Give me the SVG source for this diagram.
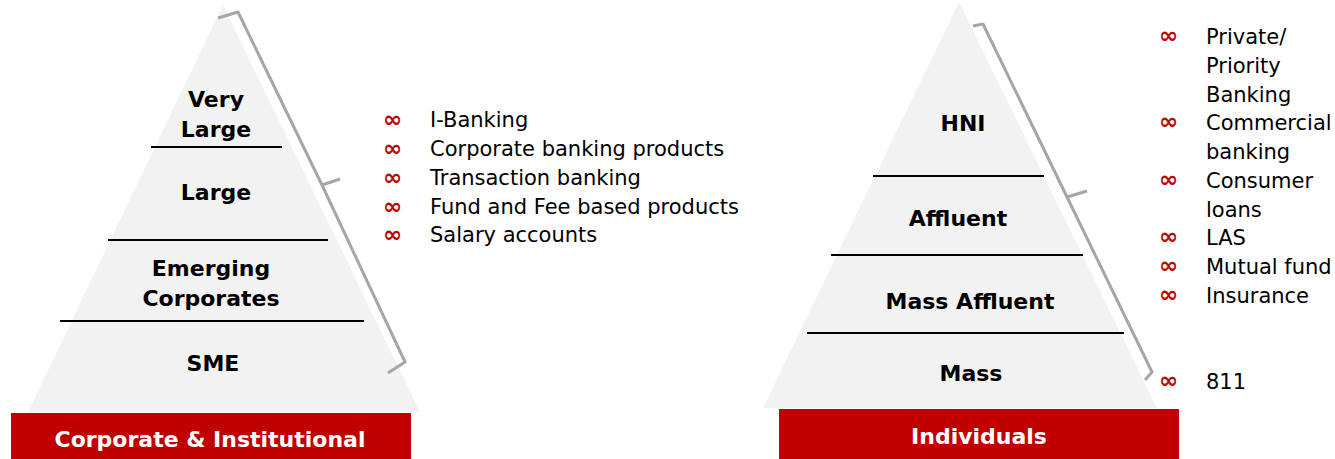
<svg xmlns="http://www.w3.org/2000/svg" width="1335" height="459" viewBox="0 0 1335 459">
<style>
.pyr{fill:#f2f2f2}
.sep{stroke:#000;stroke-width:2}
.brace{fill:none;stroke:#a6a6a6;stroke-width:3;stroke-linejoin:round}
.lbl{font-family:"DejaVu Sans",sans-serif;font-weight:bold;font-size:22px;fill:#000;text-anchor:middle}
.bar{fill:#c00000}
.barT{font-family:"DejaVu Sans",sans-serif;font-weight:bold;font-size:22px;fill:#fff;text-anchor:middle}
.bul{font-family:"DejaVu Sans",sans-serif;font-size:23px;font-weight:bold;fill:#c00000}
.item{font-family:"DejaVu Sans",sans-serif;font-size:21px;fill:#000}
</style>
<rect width="1335" height="459" fill="#fff"/>
<g id="corporate">
  <polygon class="pyr" points="223,5 28,412 420,412"/>
  <line class="sep" x1="151" y1="147" x2="282" y2="147"/>
  <line class="sep" x1="108" y1="240" x2="328" y2="240"/>
  <line class="sep" x1="60" y1="321" x2="364" y2="321"/>
  <text class="lbl" x="216" y="107">Very</text>
  <text class="lbl" x="216" y="137">Large</text>
  <text class="lbl" x="216" y="200">Large</text>
  <text class="lbl" x="211" y="276">Emerging</text>
  <text class="lbl" x="211" y="306">Corporates</text>
  <text class="lbl" x="213" y="371">SME</text>
  <rect class="bar" x="11" y="413" width="400" height="46"/>
  <text class="barT" x="210" y="447">Corporate &amp; Institutional</text>
</g>
<g id="individuals">
  <polygon class="pyr" points="959,2 763,408 1157,408"/>
  <line class="sep" x1="873" y1="176" x2="1044" y2="176"/>
  <line class="sep" x1="831" y1="255" x2="1083" y2="255"/>
  <line class="sep" x1="807" y1="333" x2="1124" y2="333"/>
  <text class="lbl" x="963" y="131">HNI</text>
  <text class="lbl" x="958" y="226">Affluent</text>
  <text class="lbl" x="970" y="309">Mass Affluent</text>
  <text class="lbl" x="971" y="381">Mass</text>
  <rect class="bar" x="779" y="409" width="400" height="50"/>
  <text class="barT" x="979" y="444">Individuals</text>
</g>
<g id="connectors">
  <path class="brace" d="M218,18 L238,12 L322,185 L340,179 M322,185 L405,362 L388,373"/>
  <path class="brace" d="M973,26 L983,24 L1067,197 L1087,191 M1067,197 L1152,372 L1145,380"/>
</g>
<g id="corporate-list">
  <text class="bul" x="383" y="127">∞</text><text class="item" x="430" y="127">I-Banking</text>
  <text class="bul" x="383" y="156">∞</text><text class="item" x="430" y="156">Corporate banking products</text>
  <text class="bul" x="383" y="185">∞</text><text class="item" x="430" y="185">Transaction banking</text>
  <text class="bul" x="383" y="214">∞</text><text class="item" x="430" y="214">Fund and Fee based products</text>
  <text class="bul" x="383" y="242">∞</text><text class="item" x="430" y="242">Salary accounts</text>
</g>
<g id="individuals-list">
  <text class="bul" x="1159" y="43">∞</text><text class="item" x="1206" y="44">Private/</text>
  <text class="item" x="1206" y="73">Priority</text>
  <text class="item" x="1206" y="102">Banking</text>
  <text class="bul" x="1159" y="129">∞</text><text class="item" x="1206" y="130">Commercial</text>
  <text class="item" x="1206" y="159">banking</text>
  <text class="bul" x="1159" y="187">∞</text><text class="item" x="1206" y="188">Consumer</text>
  <text class="item" x="1206" y="217">loans</text>
  <text class="bul" x="1159" y="244">∞</text><text class="item" x="1206" y="245">LAS</text>
  <text class="bul" x="1159" y="273">∞</text><text class="item" x="1206" y="274">Mutual fund</text>
  <text class="bul" x="1159" y="302">∞</text><text class="item" x="1206" y="303">Insurance</text>
  <text class="bul" x="1159" y="388">∞</text><text class="item" x="1206" y="389">811</text>
</g>
</svg>
